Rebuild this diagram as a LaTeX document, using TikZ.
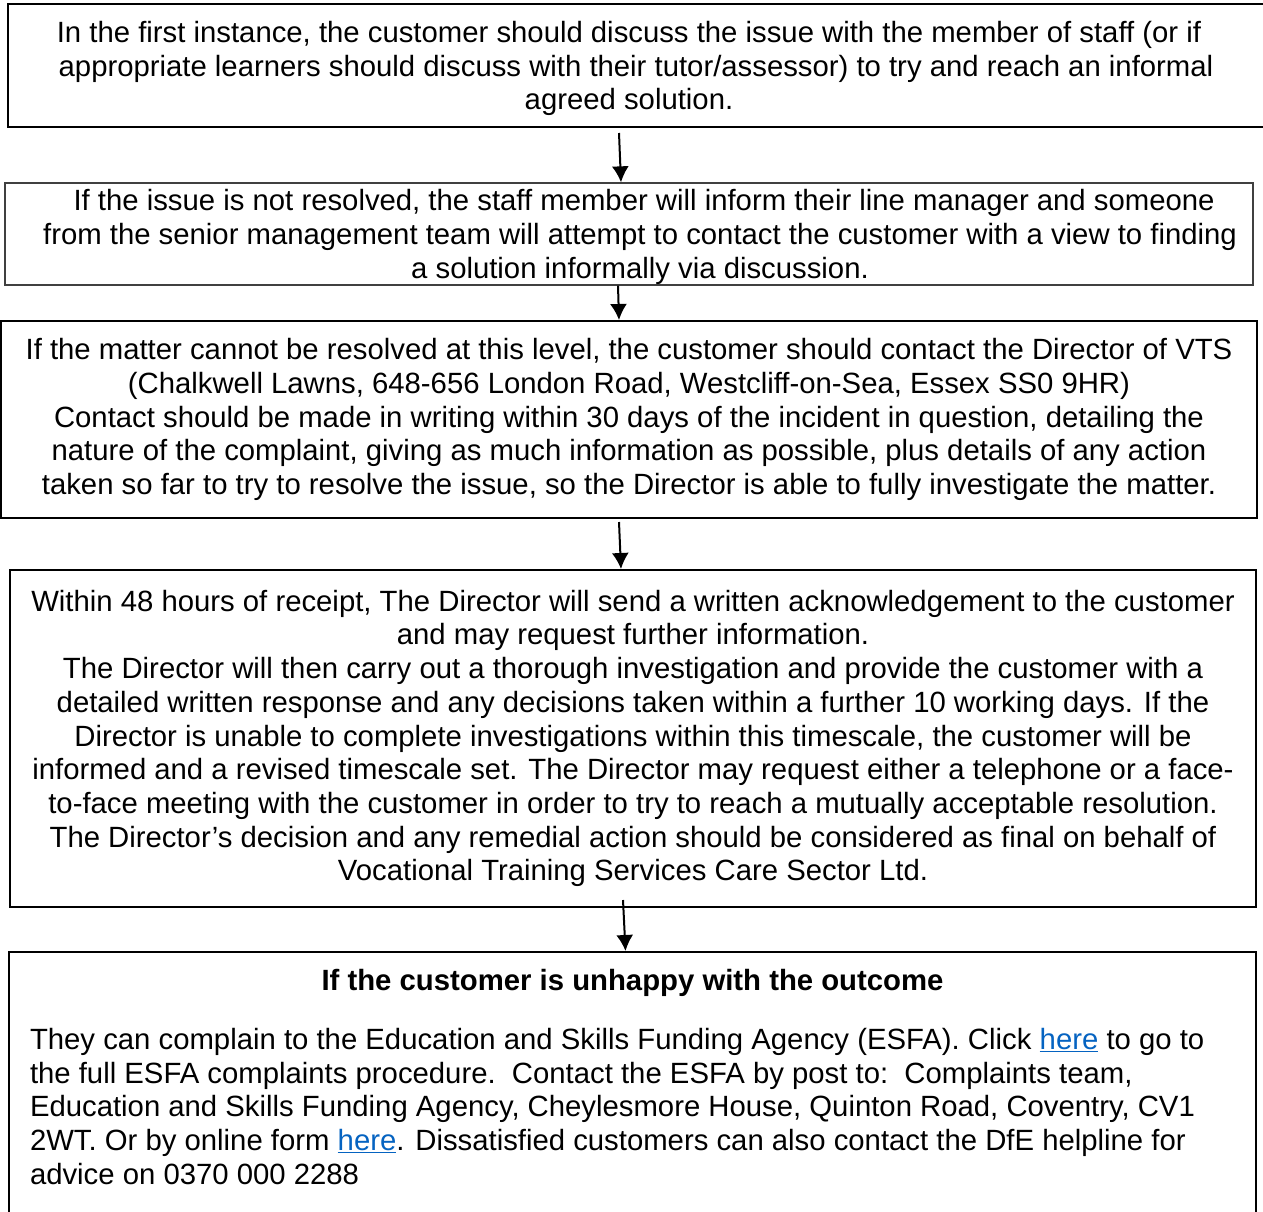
\documentclass[tikz,border=0pt]{standalone}
\usepackage{fontspec}
\setmainfont{Liberation Sans}
\usepackage{tikz}
\usetikzlibrary{positioning,arrows.meta}
\tikzset{>=latex}
\definecolor{linkblue}{HTML}{0563C1}
\newcommand{\weblink}[1]{\textcolor{linkblue}{\underline{#1}}}

\begin{document}
\begin{tikzpicture}[x=1pt, y=-1pt,
  stepbox/.style = {rectangle, draw, line width=2pt, align=center, inner sep=0pt, font=\fontsize{29.3}{33.7}\selectfont},
  flow/.style = {-{Latex[length=16pt,width=17pt]}, line width=2pt}]
  \useasboundingbox (0,0) rectangle (1263,1211);
  % nodes
  \node[stepbox, minimum width=1256pt, minimum height=123pt, text depth=0pt] (first_step) at (636,65.5)
    {In the first instance, the customer should discuss the issue with the member of staff (or if\hspace*{14pt}\\
     appropriate learners should discuss with their tutor/assessor) to try and reach an informal\hspace*{14pt}\\
     agreed solution.\hspace*{14pt}};
  \node[stepbox, draw=black!75, line width=1.3pt, minimum width=1248pt, minimum height=102pt, text depth=0pt] (line_manager) at (629,234)
    {\hspace*{22pt}\ If the issue is not resolved, the staff member will inform their line manager and someone\\
     \hspace*{22pt}from the senior management team will attempt to contact the customer with a view to finding\\
     \hspace*{22pt}a solution informally via discussion.};
  \node[stepbox, minimum width=1256pt, minimum height=197pt] (director_contact) at (629,419.5)
    {If the matter cannot be resolved at this level, the customer should contact the Director of VTS\\
     (Chalkwell Lawns, 648-656 London Road, Westcliff-on-Sea, Essex SS0 9HR)\\
     Contact should be made in writing within 30 days of the incident in question, detailing the\\
     nature of the complaint, giving as much information as possible, plus details of any action\\
     taken so far to try to resolve the issue, so the Director is able to fully investigate the matter.};
  \node[stepbox, minimum width=1246pt, minimum height=337pt] (director_reply) at (633,738.5)
    {Within 48 hours of receipt, The Director will send a written acknowledgement to the customer\\
     and may request further information.\\
     The Director will then carry out a thorough investigation and provide the customer with a\\
     detailed written response and any decisions taken within a further 10 working days. If the\\
     Director is unable to complete investigations within this timescale, the customer will be\\
     informed and a revised timescale set. The Director may request either a telephone or a face-\\
     to-face meeting with the customer in order to try to reach a mutually acceptable resolution.\\
     The Director’s decision and any remedial action should be considered as final on behalf of\\
     Vocational Training Services Care Sector Ltd.};
  \node[stepbox, align=left, anchor=north west, text width=1205pt, inner xsep=21pt, inner ysep=17.5pt] (esfa_outcome) at (8,951)
    {\spaceskip=0pt\xspaceskip=0pt
     {\centering\bfseries If the customer is unhappy with the outcome\par}\vspace{25pt}
     \rightskip=0pt plus 1fil
     They can complain to the Education and Skills Funding Agency (ESFA). Click \weblink{here} to go to\\
     the full ESFA complaints procedure.\ \ Contact the ESFA by post to:\ \ Complaints team,\\
     Education and Skills Funding Agency, Cheylesmore House, Quinton Road, Coventry, CV1\\
     2WT. Or by online form \weblink{here}. Dissatisfied customers can also contact the DfE helpline for\\
     advice on 0370 000 2288\rule[-60pt]{0pt}{60pt}};

  % connections
  \draw[flow] ([xshift=-17pt,yshift=-5pt]first_step.south) -- ([xshift=-8pt]line_manager.north);
  \draw[flow] ([xshift=-11pt]line_manager.south) -- ([xshift=-10pt]director_contact.north);
  \draw[flow] ([xshift=-10pt,yshift=-3pt]director_contact.south) -- ([xshift=-12pt]director_reply.north);
  \draw[flow] ([xshift=-10pt,yshift=8pt]director_reply.south) -- ([xshift=-7pt]esfa_outcome.north);
\end{tikzpicture}
\end{document}
